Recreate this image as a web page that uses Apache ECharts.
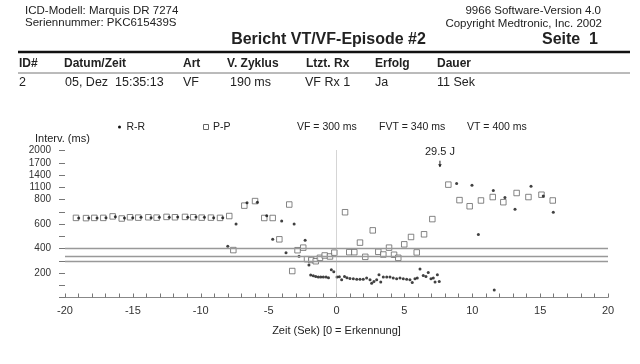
<!DOCTYPE html>
<html>
<head>
<meta charset="utf-8">
<script src="https://cdn.jsdelivr.net/npm/echarts@6/dist/echarts.min.js"></script>
<style>
html,body{margin:0;padding:0;background:#fff;}
#c{width:640px;height:364px;}
</style>
</head>
<body>
<div id="c"></div>
<script>
// ---- data (time in s, interval in ms) ----
const ppTime = [-19.19,-18.45,-17.84,-17.18,-16.49,-15.82,-15.21,-14.60,-13.86,-13.25,-12.52,-11.90,-11.16,-10.55,-9.93,-9.25,-8.58,-7.90,
  -7.60,-6.79,-6.00,-5.32,-4.70,-4.21,-3.48,-3.26,-2.87,-2.45,-2.17,-1.86,-1.53,-1.22,-0.87,-0.48,-0.16,0.63,0.94,1.31,1.73,2.12,2.67,3.08,3.45,3.87,4.24,4.55,4.99,5.49,5.91,6.45,7.06,8.24,9.06,9.81,10.64,11.51,12.29,13.27,14.14,15.10,15.93];
const ppInterval = [650,648,650,650,662,645,655,652,655,652,658,655,658,655,652,652,650,665,
  387,750,787,649,649,475,759,216,386,407,313,306,296,324,343,335,366,696,370,370,448,332,548,373,351,407,349,324,434,494,368,516,640,1164,795,745,792,860,778,959,860,917,792];
const rrTime = [-18.99,-18.25,-17.64,-16.98,-16.29,-15.62,-15.01,-14.40,-13.66,-13.05,-12.32,-11.70,-10.96,-10.35,-9.73,-9.05,-8.38,
  -8.01,-7.40,-6.59,-5.83,-5.14,-4.70,-4.04,-3.72,-3.12,-2.76,-2.31,-2.03,
  -1.90,-1.71,-1.53,-1.34,-1.16,-0.97,-0.77,-0.59,-0.38,-0.20,0.04,0.21,0.38,0.59,0.77,0.99,1.24,1.49,1.73,1.97,2.22,2.47,2.59,2.76,2.96,3.13,3.26,3.45,3.70,3.94,4.18,4.43,4.68,4.92,5.17,5.41,5.58,5.78,5.95,6.15,6.39,6.59,6.76,6.96,7.13,7.26,7.43,7.57,
  8.85,9.98,10.45,11.55,11.62,12.41,13.15,14.33,15.23,15.97];
const rrInterval = [648,650,650,652,660,650,652,655,652,655,655,658,655,658,655,652,652,
  418,599,773,778,668,475,624,365,599,337,467,266,
  183,178,172,167,167,167,167,161,227,210,167,170,145,172,161,155,153,150,150,150,159,145,117,131,145,186,126,167,167,167,159,153,159,153,150,145,122,153,159,233,180,172,205,153,159,126,186,131,
  1189,1147,514,1023,62,850,720,1122,884,696];
const thresholds = [300, 340, 400];          // VF, FVT, VT
const yTickLabels = [200, 400, 600, 800, 1100, 1400, 1700, 2000];
const shockTime = 7.62;
const shockLabel = '29.5 J';

// piecewise scale: linear to 800 ms, compressed x3 above
const BREAK = 800;
function T(v){ return v <= BREAK ? v : BREAK + (v - BREAK) / 3; }
function Tinv(t){ return t <= BREAK ? t : BREAK + (t - BREAK) * 3; }
const labelSet = new Set(yTickLabels);

const FONT = "'Liberation Sans', Arial, sans-serif";
const C = '#222';

const chart = echarts.init(document.getElementById('c'), null, {renderer:'canvas'});

function txt(x, y, s, opt){
  opt = opt || {};
  const size = opt.size || 11.5, weight = opt.bold ? 'bold ' : '';
  const al = opt.align || 'left';
  return {type:'text', x:x, y:y, silent:true, style:{text:s, font: weight + size + 'px ' + FONT, fill: opt.color || C,
    align: al, textAlign: al, verticalAlign:'middle', textVerticalAlign:'middle'}};
}

const graphics = [
  txt(25, 10.7, 'ICD-Modell: Marquis DR 7274'),
  txt(25, 23.3, 'Seriennummer: PKC615439S'),
  txt(601, 11, '9966 Software-Version 4.0', {align:'right'}),
  txt(602, 24, 'Copyright Medtronic, Inc. 2002', {align:'right'}),
  txt(328.5, 40, 'Bericht VT/VF-Episode #2', {size:16, bold:true, align:'center'}),
  txt(598, 40, 'Seite  1', {size:16, bold:true, align:'right'}),
  {type:'line', silent:true, shape:{x1:18, y1:52, x2:630, y2:52}, style:{stroke:'#111', lineWidth:2.5}},
  txt(19, 63.3, 'ID#', {size:12, bold:true}),
  txt(64, 63.3, 'Datum/Zeit', {size:12, bold:true}),
  txt(183, 63.3, 'Art', {size:12, bold:true}),
  txt(227, 63.3, 'V. Zyklus', {size:12, bold:true}),
  txt(306, 63.3, 'Ltzt. Rx', {size:12, bold:true}),
  txt(375, 63.3, 'Erfolg', {size:12, bold:true}),
  txt(437, 63.3, 'Dauer', {size:12, bold:true}),
  {type:'line', silent:true, shape:{x1:18, y1:73, x2:630, y2:73}, style:{stroke:'#777', lineWidth:1}},
  txt(19, 83, '2', {size:12.5}),
  txt(65, 83, '05, Dez  15:35:13', {size:12.5}),
  txt(183, 83, 'VF', {size:12.5}),
  txt(230, 83, '190 ms', {size:12.5}),
  txt(305, 83, 'VF Rx 1', {size:12.5}),
  txt(375, 83, 'Ja', {size:12.5}),
  txt(437, 83, '11 Sek', {size:12.5}),
  // legend row
  {type:'circle', silent:true, shape:{cx:119.5, cy:127, r:1.5}, style:{fill:'#111'}},
  txt(126.5, 127, 'R-R', {size:10.5}),
  {type:'rect', silent:true, shape:{x:203.5, y:124.5, width:5, height:5}, style:{fill:'#fff', stroke:'#666', lineWidth:1}},
  txt(213, 127, 'P-P', {size:10.5}),
  txt(297, 127, 'VF = ' + thresholds[0] + ' ms', {size:10.5}),
  txt(379, 127, 'FVT = ' + thresholds[1] + ' ms', {size:10.5}),
  txt(467, 127, 'VT = ' + thresholds[2] + ' ms', {size:10.5}),
  txt(35, 139.3, 'Interv. (ms)', {size:11})
];

const option = {
  backgroundColor:'#fff',
  animation:false,
  textStyle:{fontFamily:FONT},
  grid:{left:65, right:32, top:150.5, bottom:66.5},
  xAxis:{
    type:'value', min:-20, max:20, interval:5,
    axisLine:{show:true, onZero:false, lineStyle:{color:'#888', width:1}},
    axisTick:{show:true, inside:true, length:4, lineStyle:{color:'#777'}},
    minorTick:{show:true, splitNumber:5, length:4, lineStyle:{color:'#777'}},
    splitLine:{show:false},
    axisLabel:{fontSize:11, color:'#333', margin:8, fontFamily:FONT},
    name:'Zeit (Sek) [0 = Erkennung]', nameLocation:'middle', nameGap:28,
    nameTextStyle:{fontSize:11, color:'#222', fontFamily:FONT}
  },
  yAxis:{
    type:'value', min:0, max:T(2000), interval:100,
    axisLine:{show:false, onZero:false},
    axisTick:{show:true, inside:false, length:6, lineStyle:{color:'#777'}},
    splitLine:{show:false},
    axisLabel:{fontSize:10, color:'#333', margin:14, fontFamily:FONT,
      formatter:function(v){ const r = Math.round(Tinv(v)); return labelSet.has(r) ? String(r) : ''; }}
  },
  series:[
    {
      name:'P-P', type:'scatter', z:2,
      symbol:'rect', symbolSize:5.5,
      itemStyle:{color:'#fff', borderColor:'#666', borderWidth:1},
      data: ppTime.map((t,i)=>[t, T(ppInterval[i])]),
      markLine:{
        silent:true, symbol:['none','none'], label:{show:false}, animation:false,
        data:[
          ...thresholds.map(v=>({yAxis:T(v), lineStyle:{color:'#999', width:1.4, type:'solid'}})),
          {xAxis:0, lineStyle:{color:'#aaa', width:1, type:'dotted'}}
        ]
      }
    },
    {
      name:'R-R', type:'scatter', z:3,
      symbol:'circle', symbolSize:3,
      itemStyle:{color:'#111'},
      data: rrTime.map((t,i)=>[t, T(rrInterval[i])])
    }
  ],
  graphic: graphics
};
chart.setOption(option);

// shock annotation positioned through the chart's scales
const p1 = chart.convertToPixel({gridIndex:0}, [shockTime, T(2000)]);
const p2 = chart.convertToPixel({gridIndex:0}, [shockTime, T(1750)]);
const p3 = chart.convertToPixel({gridIndex:0}, [shockTime, T(1600)]);
chart.setOption({graphic: graphics.concat([
  txt(p1[0], p1[1] + 1, shockLabel, {size:11, align:'center'}),
  {type:'line', silent:true, shape:{x1:p2[0], y1:p2[1], x2:p3[0], y2:p3[1]}, style:{stroke:'#222', lineWidth:1}},
  {type:'polygon', silent:true, shape:{points:[[p3[0]-1.8, p3[1]-2.5],[p3[0]+1.8, p3[1]-2.5],[p3[0], p3[1]+0.5]]}, style:{fill:'#222'}}
])});
</script>
</body>
</html>
